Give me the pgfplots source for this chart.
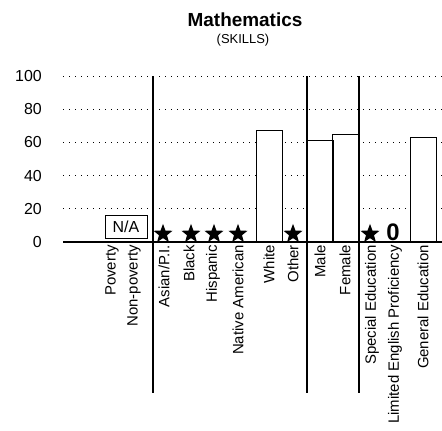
\documentclass[border=0pt]{standalone}
\usepackage{fontspec}
\setmainfont{Liberation Sans}
\usepackage{graphicx}
\usepackage{pgfplots}
\pgfplotsset{compat=1.18}

% filled five-point star whose lower points rest on the data point
\pgfdeclareplotmark{fstar}{%
  \pgfpathmoveto{\pgfpointadd{\pgfqpoint{0pt}{0.809\pgfplotmarksize}}{\pgfpointpolar{90}{1\pgfplotmarksize}}}%
  \pgfpathlineto{\pgfpointadd{\pgfqpoint{0pt}{0.809\pgfplotmarksize}}{\pgfpointpolar{126}{0.42\pgfplotmarksize}}}%
  \pgfpathlineto{\pgfpointadd{\pgfqpoint{0pt}{0.809\pgfplotmarksize}}{\pgfpointpolar{162}{1\pgfplotmarksize}}}%
  \pgfpathlineto{\pgfpointadd{\pgfqpoint{0pt}{0.809\pgfplotmarksize}}{\pgfpointpolar{198}{0.42\pgfplotmarksize}}}%
  \pgfpathlineto{\pgfpointadd{\pgfqpoint{0pt}{0.809\pgfplotmarksize}}{\pgfpointpolar{234}{1\pgfplotmarksize}}}%
  \pgfpathlineto{\pgfpointadd{\pgfqpoint{0pt}{0.809\pgfplotmarksize}}{\pgfpointpolar{270}{0.42\pgfplotmarksize}}}%
  \pgfpathlineto{\pgfpointadd{\pgfqpoint{0pt}{0.809\pgfplotmarksize}}{\pgfpointpolar{306}{1\pgfplotmarksize}}}%
  \pgfpathlineto{\pgfpointadd{\pgfqpoint{0pt}{0.809\pgfplotmarksize}}{\pgfpointpolar{342}{0.42\pgfplotmarksize}}}%
  \pgfpathlineto{\pgfpointadd{\pgfqpoint{0pt}{0.809\pgfplotmarksize}}{\pgfpointpolar{18}{1\pgfplotmarksize}}}%
  \pgfpathlineto{\pgfpointadd{\pgfqpoint{0pt}{0.809\pgfplotmarksize}}{\pgfpointpolar{54}{0.42\pgfplotmarksize}}}%
  \pgfpathclose
  \pgfusepathqfill
}

\newcommand{\vlab}[1]{\rotatebox{90}{#1}}

\begin{document}
\begin{tikzpicture}
% frame of the reference, 1 px = 1 bp
\useasboundingbox (0bp,0bp) rectangle (442bp,-431bp);
\node[font=\fontsize{19}{20}\selectfont\bfseries] at (245bp,-20bp) {Mathematics};
\node[font=\fontsize{13}{14}\selectfont] at (243bp,-40bp) {(SKILLS)};

\begin{axis}[
    at={(63bp,-242bp)}, anchor=south west,
    scale only axis, width=379bp, height=166bp,
    xmin=63, xmax=442, ymin=0, ymax=100,
    axis x line=bottom, axis y line=left,
    x axis line style={-, line width=1.2bp},
    y axis line style={draw=none},
    major tick length=0pt,
    ytick={0,20,...,100},
    ymajorgrids,
    grid style={black, line width=1bp, dash pattern=on 1.3bp off 4.7bp},
    /pgf/number format/assume math mode=true,
    yticklabel style={font=\fontsize{16}{16}\selectfont, anchor=east, inner sep=0pt, xshift=-21bp},
    xtick={112,134,164,189,213,238,269,293,320,345,372,395,423},
    xticklabels={\vlab{Poverty}, \vlab{Non-poverty}, \vlab{Asian/P.I.}, \vlab{Black},
                 \vlab{Hispanic}, \vlab{Native American}, \vlab{White}, \vlab{Other},
                 \vlab{Male}, \vlab{Female}, \vlab{Special Education},
                 \vlab{Limited English Proficiency}, \vlab{General Education}},
    xticklabel style={font=\fontsize{15}{15}\selectfont, anchor=north, inner sep=3bp},
    clip=false,
]
% group separators
\draw[line width=1.3bp] (axis cs:153,100) -- (axis cs:153,-91);
\draw[line width=1.3bp] (axis cs:307,100) -- (axis cs:307,-91);
\draw[line width=1.3bp] (axis cs:359,100) -- (axis cs:359,-91);

% bars
\addplot[ybar, bar width=26bp, fill=white, draw=black, line width=1.2bp]
  coordinates {(269.5,67) (320,61) (345.5,65) (423.5,63)};

% too few students
\addplot[only marks, mark=fstar, mark size=10bp, black]
  coordinates {(163,0) (191,0) (214,0) (238,0) (293,0) (370,0)};

% zero value
\addplot[only marks, mark=none, nodes near coords,
  every node near coord/.append style={font=\fontsize{24}{24}\selectfont\bfseries, anchor=south, inner sep=0pt, yshift=1.5bp}]
  coordinates {(393,0)};

\node[draw, line width=1bp, font=\fontsize{16}{16}\selectfont, minimum width=42bp,
      minimum height=23bp, inner sep=0pt, anchor=south, yshift=3bp] at (axis cs:126,0) {N/A};
\end{axis}
\end{tikzpicture}
\end{document}
